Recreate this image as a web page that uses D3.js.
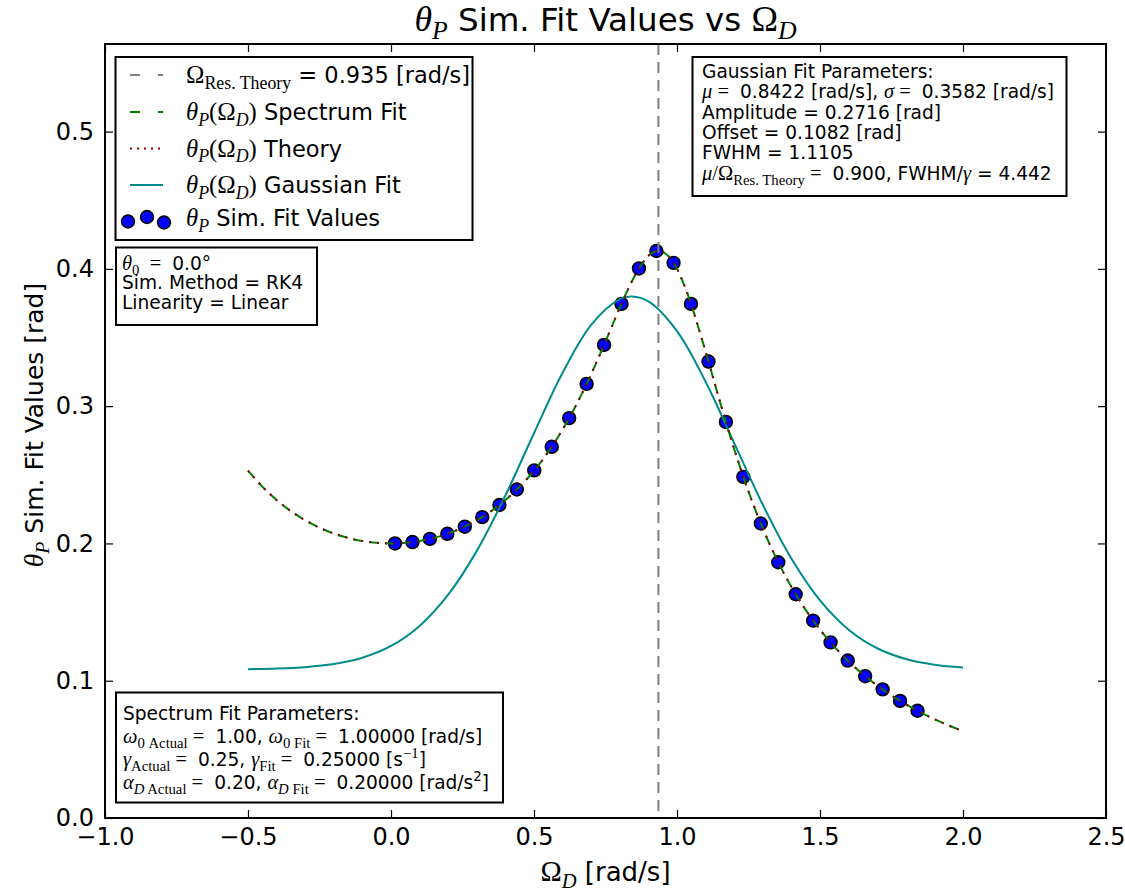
<!DOCTYPE html>
<html><head><meta charset="utf-8">
<script src="https://d3js.org/d3.v7.min.js"></script>
<style>
body{margin:0;background:#fff;}
text{white-space:pre;}
</style></head>
<body><svg id="chart" width="1125" height="890"></svg>
<script>
// ---------- data ----------
const xTicks = [-1.0, -0.5, 0.0, 0.5, 1.0, 1.5, 2.0, 2.5];
const yTicks = [0.0, 0.1, 0.2, 0.3, 0.4, 0.5];
const resonanceOmega = 0.935;

const simOmega = [0.014,0.075,0.136,0.197,0.258,0.319,0.379,0.440,0.501,0.562,0.623,0.684,0.745,0.806,0.867,0.928,
  0.988,1.049,1.110,1.171,1.232,1.293,1.354,1.415,1.476,1.537,1.597,1.658,1.719,1.780,1.841];
const simTheta = [0.2000,0.2010,0.2033,0.2070,0.2122,0.2192,0.2280,0.2393,0.2532,0.2704,0.2913,0.3162,0.3446,0.3745,0.4003,0.4130,
  0.4044,0.3745,0.3325,0.2885,0.2485,0.2145,0.1863,0.1630,0.1438,0.1279,0.1147,0.1033,0.0937,0.0853,0.0781];

const curveOmega = [-0.50,-0.45,-0.40,-0.35,-0.30,-0.25,-0.20,-0.15,-0.10,-0.05,0.00,0.05,0.10,0.15,0.20,0.25,0.30,0.35,0.40,0.45,
  0.50,0.55,0.60,0.65,0.70,0.75,0.80,0.825,0.85,0.875,0.90,0.915,0.935,0.95,0.975,1.00,1.025,1.05,1.10,1.15,1.20,1.25,1.30,1.35,1.40,
  1.45,1.50,1.55,1.60,1.65,1.70,1.75,1.80,1.85,1.90,1.95,2.00];
const theoryTheta = [0.25298,0.24136,0.23162,0.22352,0.21685,0.21146,0.20721,0.20400,0.20176,0.20044,0.20000,0.20044,0.20176,0.20400,
  0.20721,0.21146,0.21685,0.22352,0.23162,0.24136,0.25298,0.26675,0.28296,0.30181,0.32334,0.34709,0.37165,0.38337,0.39403,0.40296,
  0.40944,0.41187,0.41312,0.41245,0.40817,0.40000,0.38835,0.37389,0.33972,0.30337,0.26880,0.23785,0.21098,0.18797,0.16834,
  0.15157,0.13720,0.12481,0.11408,0.10472,0.09651,0.08927,0.08285,0.07713,0.07201,0.06742,0.06325];
const spectrumFitTheta = [0.25298,0.24136,0.23162,0.22352,0.21685,0.21146,0.20721,0.20400,0.20176,0.20044,0.20000,0.20044,0.20176,0.20400,
  0.20721,0.21146,0.21685,0.22352,0.23162,0.24136,0.25298,0.26675,0.28296,0.30181,0.32334,0.34709,0.37165,0.38337,0.39403,0.40296,
  0.40944,0.41187,0.41312,0.41245,0.40817,0.40000,0.38835,0.37389,0.33972,0.30337,0.26880,0.23785,0.21098,0.18797,0.16834,
  0.15157,0.13720,0.12481,0.11408,0.10472,0.09651,0.08927,0.08285,0.07713,0.07201,0.06742,0.06325];

const gaussOmega = [-0.5,-0.4,-0.3,-0.2,-0.1,0.0,0.1,0.2,0.3,0.4,0.5,0.6,0.7,0.8,0.8422,0.9,1.0,1.1,1.2,1.3,1.4,1.5,1.6,1.7,1.8,1.9,2.0];
const gaussTheta = [0.10844,0.10886,0.10988,0.11214,0.11674,0.12532,0.13994,0.16265,0.19458,0.23496,0.28029,0.32430,0.35922,0.37792,
  0.37980,0.37629,0.35468,0.31783,0.27312,0.22821,0.18899,0.15850,0.13718,0.12365,0.11581,0.11167,0.10966];

// ---------- layout ----------
const svg = d3.select('#chart');
const L = 105, R = 1106, T = 44, B = 818;
const x = d3.scaleLinear().domain([-1.0, 2.5]).range([L, R]);
const y = d3.scaleLinear().domain([0, 0.5638]).range([B, T]);
const SANS = 'DejaVu Sans', SERIF = 'Liberation Serif';

function rich(g, px, py, parts, size, anchor, extra) {
  const t = g.append('text').attr('x', px).attr('y', py).attr('font-size', size)
    .attr('text-anchor', anchor || 'start').attr('fill', '#000');
  if (extra) extra(t);
  let cur = 0;
  parts.forEach(p => {
    const [txt, f, s] = p;
    const target = s === 'sub' ? size * 0.25 : s === 'sup' ? -size * 0.42 : 0;
    const ts = t.append('tspan').text(txt).attr('dy', (target - cur).toFixed(2));
    cur = target;
    const base = f === 'n' ? size : size * 1.1;
    ts.attr('font-family', f === 'n' ? SANS : SERIF)
      .attr('font-style', f === 'i' ? 'italic' : 'normal')
      .attr('font-size', (s ? base * 0.72 : base).toFixed(2));
  });
  return t;
}

// ---------- axes ----------
const fmt = d3.format('.1f');
svg.append('g').attr('transform', `translate(0,${B})`)
  .call(d3.axisBottom(x).tickValues(xTicks).tickFormat(fmt).tickSize(-8).tickPadding(10))
  .call(g => { g.select('.domain').remove(); g.selectAll('text').attr('font-size', 24).attr('font-family', SANS).attr('fill','#000'); g.selectAll('line').attr('stroke-width',1.2); });
svg.append('g').attr('transform', `translate(0,${T})`)
  .call(d3.axisTop(x).tickValues(xTicks).tickFormat('').tickSize(-8))
  .call(g => { g.select('.domain').remove(); g.selectAll('line').attr('stroke-width',1.2); });
svg.append('g').attr('transform', `translate(${L},0)`)
  .call(d3.axisLeft(y).tickValues(yTicks).tickFormat(fmt).tickSize(-8).tickPadding(11))
  .call(g => { g.select('.domain').remove(); g.selectAll('text').attr('font-size', 24).attr('font-family', SANS).attr('fill','#000'); g.selectAll('line').attr('stroke-width',1.2); });
svg.append('g').attr('transform', `translate(${R},0)`)
  .call(d3.axisRight(y).tickValues(yTicks).tickFormat('').tickSize(-8))
  .call(g => { g.select('.domain').remove(); g.selectAll('line').attr('stroke-width',1.2); });

// ---------- marks ----------
const plot = svg.append('g');
plot.selectAll('circle.sim').data(simOmega).join('circle').attr('class','sim')
  .attr('cx', d => x(d)).attr('cy', (d, i) => y(simTheta[i])).attr('r', 6.4)
  .attr('fill', '#0000ff').attr('stroke', '#000').attr('stroke-width', 1.6);

const lineGen = (xs, ys) => d3.line().x((d, i) => x(xs[i])).y((d, i) => y(ys[i])).curve(d3.curveCatmullRom)(xs);
plot.append('path').attr('d', lineGen(gaussOmega, gaussTheta)).attr('fill','none').attr('stroke','#008b8b').attr('stroke-width',2);
plot.append('path').attr('d', lineGen(curveOmega, spectrumFitTheta)).attr('fill','none').attr('stroke','#008000').attr('stroke-width',2).attr('stroke-dasharray','9,7');
plot.append('path').attr('d', lineGen(curveOmega, theoryTheta)).attr('fill','none').attr('stroke','#8b0000').attr('stroke-width',2).attr('stroke-dasharray','2,6');
plot.append('line').attr('x1', x(resonanceOmega)).attr('x2', x(resonanceOmega)).attr('y1', T).attr('y2', B)
  .attr('stroke','#808080').attr('stroke-width',2).attr('stroke-dasharray','11,7');

// frame
svg.append('rect').attr('x', L).attr('y', T).attr('width', R - L).attr('height', B - T)
  .attr('fill','none').attr('stroke','#000').attr('stroke-width',2);

// ---------- titles ----------
rich(svg, (L + R) / 2, 31, [['θ','i'],['P','i','sub'],[' Sim. Fit Values vs ','n'],['Ω','r'],['D','i','sub']], 32.5, 'middle');
rich(svg, (L + R) / 2, 881, [['Ω','r'],['D','i','sub'],[' [rad/s]','n']], 26, 'middle');
rich(svg, 0, 0, [['θ','i'],['P','i','sub'],[' Sim. Fit Values [rad]','n']], 25, 'middle',
  t => t.attr('transform', `translate(43,425) rotate(-90)`));

// ---------- legend ----------
const lg = svg.append('g');
lg.append('rect').attr('x',115.5).attr('y',57).attr('width',357).attr('height',183).attr('fill','#fff').attr('stroke','#000').attr('stroke-width',2);
const ly = [75, 112, 148.5, 185, 218];
const hx0 = 130, hx1 = 163;
lg.append('line').attr('x1',hx0).attr('x2',hx1).attr('y1',ly[0]).attr('y2',ly[0]).attr('stroke','#808080').attr('stroke-width',2).attr('stroke-dasharray','10,18');
lg.append('line').attr('x1',hx0).attr('x2',hx1).attr('y1',ly[1]).attr('y2',ly[1]).attr('stroke','#008000').attr('stroke-width',2).attr('stroke-dasharray','10,18');
lg.append('line').attr('x1',hx0).attr('x2',hx1).attr('y1',ly[2]).attr('y2',ly[2]).attr('stroke','#8b0000').attr('stroke-width',2).attr('stroke-dasharray','2,5');
lg.append('line').attr('x1',hx0).attr('x2',hx1).attr('y1',ly[3]).attr('y2',ly[3]).attr('stroke','#008b8b').attr('stroke-width',2);
[[128,221.5],[147,217],[164,222.5]].forEach(p => lg.append('circle').attr('cx',p[0]).attr('cy',p[1]).attr('r',6.4).attr('fill','#0000ff').attr('stroke','#000').attr('stroke-width',1.6));
const lfs = 22.5, ltx = 186;
rich(lg, ltx, ly[0] + 8, [['Ω','r'],['Res. Theory','r','sub'],[' = 0.935 [rad/s]','n']], lfs);
rich(lg, ltx, ly[1] + 8, [['θ','i'],['P','i','sub'],['(Ω','r'],['D','i','sub'],[')','r'],[' Spectrum Fit','n']], lfs);
rich(lg, ltx, ly[2] + 8, [['θ','i'],['P','i','sub'],['(Ω','r'],['D','i','sub'],[')','r'],[' Theory','n']], lfs);
rich(lg, ltx, ly[3] + 8, [['θ','i'],['P','i','sub'],['(Ω','r'],['D','i','sub'],[')','r'],[' Gaussian Fit','n']], lfs);
rich(lg, ltx, ly[4] + 8, [['θ','i'],['P','i','sub'],[' Sim. Fit Values','n']], lfs);

// ---------- text boxes ----------
const bfs = 18.6;
function box(bx, by, bw, bh) {
  svg.append('rect').attr('x',bx).attr('y',by).attr('width',bw).attr('height',bh).attr('fill','#fff').attr('stroke','#000').attr('stroke-width',2);
}
box(692.5, 57, 374, 139);
const gl = [[['Gaussian Fit Parameters:','n']],
  [['μ','i'],[' = ','r'],[' 0.8422 [rad/s], ','n'],['σ','i'],[' = ','r'],[' 0.3582 [rad/s]','n']],
  [['Amplitude = 0.2716 [rad]','n']],
  [['Offset = 0.1082 [rad]','n']],
  [['FWHM = 1.1105','n']],
  [['μ','i'],['/Ω','r'],['Res. Theory','r','sub'],[' = ','r'],[' 0.900, FWHM/','n'],['γ','i'],[' = 4.442','n']]];
const gy = [78, 98, 119, 139, 159, 180];
gl.forEach((p, i) => rich(svg, 702, gy[i], p, bfs));

box(116, 247.5, 201, 77.5);
rich(svg, 122, 270, [['θ','i'],['0','r','sub'],['  = ','r'],[' 0.0°','n']], bfs);
rich(svg, 122, 289, [['Sim. Method = RK4','n']], bfs);
rich(svg, 122, 309, [['Linearity = Linear','n']], bfs);

box(116, 692.5, 387, 110);
rich(svg, 123, 720, [['Spectrum Fit Parameters:','n']], bfs);
rich(svg, 123, 743, [['ω','i'],['0 Actual','r','sub'],[' = ','r'],[' 1.00, ','n'],['ω','i'],['0 Fit','r','sub'],[' = ','r'],[' 1.00000 [rad/s]','n']], bfs);
rich(svg, 123, 766, [['γ','i'],['Actual','r','sub'],[' = ','r'],[' 0.25, ','n'],['γ','i'],['Fit','r','sub'],[' = ','r'],[' 0.25000 [s','n'],['−1','r','sup'],[']','n']], bfs);
rich(svg, 123, 789, [['α','i'],['D','i','sub'],[' Actual','r','sub'],[' = ','r'],[' 0.20, ','n'],['α','i'],['D','i','sub'],[' Fit','r','sub'],[' = ','r'],[' 0.20000 [rad/s','n'],['2','n','sup'],[']','n']], bfs);
</script></body></html>
